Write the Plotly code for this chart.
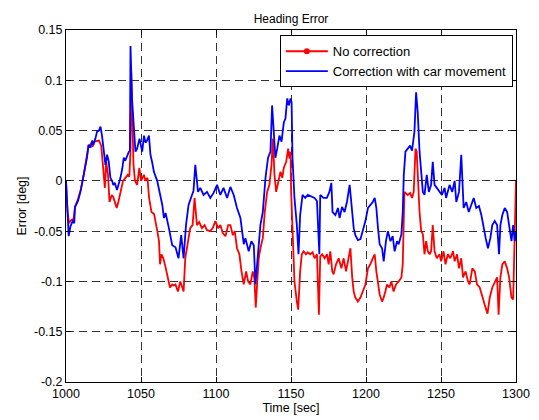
import plotly.graph_objects as go

# ---- data ----
t_blue = [1000, 1001, 1001.8, 1003, 1004.5, 1005.5, 1006, 1008, 1009.6, 1011.8, 1014, 1015, 1016.5, 1017.4, 1018.3,
          1019.6, 1020.7, 1022, 1023, 1024, 1025.2, 1026.3, 1027.4, 1028.5, 1029.6, 1030.7, 1031.5, 1032.5, 1034,
          1036.3, 1037.5, 1038.5, 1039.5, 1040.8, 1041.9, 1042.6, 1043, 1044, 1045.2, 1046.3, 1047.4, 1049, 1050.8,
          1052, 1053, 1054, 1055.3, 1056.3, 1057.5, 1058.6, 1060.8, 1063, 1064.2, 1065.3, 1066.4, 1068.6, 1070.8,
          1073, 1074.2, 1075, 1076.8, 1078.4, 1080, 1081.7, 1084, 1085, 1086.2, 1088, 1089.5, 1091.7, 1094, 1096.2,
          1098.4, 1100.7, 1102.9, 1105, 1107.4, 1109.6, 1111.8, 1114, 1116.3, 1117.4, 1118.5, 1119.6, 1121.8, 1123.6,
          1125.2, 1126.3, 1128, 1129.6, 1131.2, 1133, 1134.7, 1136.3, 1137.4, 1138.5, 1139.6, 1140.8, 1142.3, 1143.7,
          1145.2, 1146.3, 1147.5, 1148.5, 1149.7, 1150.4, 1151, 1152.3, 1153.9, 1155, 1156.1, 1157.7, 1159.5, 1161.2,
          1164, 1165.7, 1167.3, 1168, 1168.9, 1169.5, 1171.7, 1173.9, 1175.6, 1176.9, 1177.7, 1179.6, 1181.3, 1182.4,
          1184, 1185.7, 1187.3, 1189.1, 1190.6, 1191.8, 1192.9, 1194.6, 1196.3, 1197.8, 1199.6, 1201.3, 1202.9,
          1204.5, 1205.8, 1206.9, 1208, 1209.1, 1210.7, 1211.8, 1213.3, 1214.6, 1216.3, 1217.8, 1219.1, 1220.7,
          1221.8, 1223.6, 1224.5, 1225.2, 1226.3, 1227.8, 1229.4, 1230.7, 1232.3, 1233.4, 1234.5, 1235.7, 1236.8,
          1237.9, 1239, 1240.5, 1241.9, 1243.4, 1244.5, 1245.7, 1247.2, 1249, 1250.6, 1252.4, 1253.4, 1255.7, 1257.5,
          1259.1, 1260.2, 1262, 1263.5, 1265.1, 1266.8, 1268.5, 1270.2, 1271.8, 1273.5, 1275.3, 1276.9, 1278, 1279.8,
          1281.3, 1282.9, 1284.2, 1285.8, 1287.4, 1288.7, 1289.6, 1290.9, 1292.5, 1294.1, 1295.4, 1297, 1298.1,
          1299.2, 1300]
y_blue = [0.0, -0.03, -0.055, -0.045, -0.04, -0.042, -0.026, -0.02, -0.011, 0.006, 0.023, 0.035, 0.034, 0.04, 0.036,
          0.042, 0.049, 0.05, 0.054, 0.045, 0.029, 0.016, 0.026, 0.019, 0.003, 0.0, -0.004, -0.002, -0.009,
          0.003, 0.012, 0.023, 0.02, 0.026, 0.029, 0.03, 0.134, 0.082, 0.055, 0.029, 0.032, 0.042, 0.029,
          0.045, 0.038, 0.04, 0.045, 0.026, 0.018, 0.009, 0.0, -0.017, -0.024, -0.037, -0.032, -0.047, -0.064,
          -0.066, -0.073, -0.077, -0.054, -0.077, -0.044, -0.024, -0.014, -0.01, 0.016, -0.011, -0.007, -0.014, -0.011, -0.017,
          -0.012, -0.004, -0.014, -0.007, -0.017, -0.006, -0.014, -0.027, -0.037, -0.05, -0.063, -0.057, -0.07, -0.06,
          -0.064, -0.103, -0.07, -0.044, -0.031, 0.003, 0.023, 0.029, 0.075, 0.045, 0.023, 0.032, 0.045, 0.039,
          0.058, 0.062, 0.082, 0.075, 0.082, 0.078, 0.023, -0.017, -0.044, -0.073, -0.034, -0.014, -0.017, -0.014,
          -0.016, -0.017, -0.02, -0.047, -0.073, -0.014, -0.017, -0.017, -0.011, -0.002, -0.031, -0.034, -0.027, -0.037,
          -0.026, -0.031, -0.021, -0.004, -0.031, -0.047, -0.054, -0.059, -0.058, -0.05, -0.04, -0.027, -0.024,
          -0.021, -0.017, -0.027, -0.047, -0.063, -0.067, -0.08, -0.06, -0.05, -0.06, -0.055, -0.07, -0.06,
          -0.063, -0.053, -0.031, 0.006, 0.029, 0.032, 0.035, 0.03, 0.049, 0.088, 0.068, 0.029, 0.006,
          -0.011, -0.014, 0.006, -0.011, -0.004, 0.019, -0.004, -0.007, -0.011, -0.014, -0.007, -0.017, -0.004, -0.011,
          0.0, -0.021, -0.011, 0.026, -0.027, -0.021, -0.031, -0.024, -0.017, -0.027, -0.025, -0.034, -0.044, -0.057,
          -0.067, -0.057, -0.044, -0.04, -0.044, -0.073, -0.044, -0.034, -0.027, -0.031, -0.044, -0.06, -0.044,
          -0.06, -0.05]

t_red = [1000, 1001, 1002, 1003.5, 1005, 1006, 1008, 1010, 1011.8, 1013.5, 1015, 1016.8, 1017.8, 1018.7, 1020.7, 1022,
         1023.5, 1024.8, 1025.9, 1026.8, 1028, 1029, 1030.5, 1031.5, 1032.8, 1033.8, 1034.9, 1036.5, 1038, 1039.6,
         1041.2, 1042.2, 1043, 1043.5, 1044.3, 1045, 1046, 1047.4, 1048.9, 1050, 1051, 1052, 1053, 1054.3, 1055.4,
         1057, 1058.7, 1059.8, 1060.9, 1062, 1062.7, 1063.6, 1064.9, 1066.4, 1067.9, 1069.3, 1070.8, 1071.9, 1073,
         1074.6, 1076.2, 1077.3, 1078.4, 1079.5, 1081.3, 1082.8, 1084.4, 1085.7, 1087.3, 1088.8, 1090.6, 1092.4,
         1094, 1096.2, 1097.8, 1099.6, 1101.4, 1102.9, 1104.5, 1106.3, 1108.1, 1109.6, 1111.2, 1112.5, 1114, 1115.6,
         1117, 1118.5, 1120.1, 1121.4, 1122.9, 1124.5, 1125.6, 1126.5, 1127.4, 1128.5, 1129.6, 1131.2, 1132.5,
         1134.1, 1135.6, 1137, 1137.9, 1139, 1140.1, 1141.5, 1143, 1144.2, 1145.2, 1146.8, 1148.1, 1149, 1149.7,
         1150.1, 1151, 1152.3, 1153.9, 1154.8, 1156.1, 1157.2, 1158.4, 1160, 1161.2, 1162.8, 1164.4, 1165.7, 1167.3,
         1168, 1168.6, 1169.5, 1170.8, 1172.4, 1174, 1175.1, 1176.2, 1177.5, 1178.4, 1180, 1181.8, 1183.6, 1185.1,
         1186.7, 1188.5, 1189.6, 1190.8, 1191.8, 1192.9, 1194.6, 1196.3, 1197.8, 1199.6, 1201.3, 1202.9, 1204.5,
         1205.8, 1206.9, 1208, 1209.1, 1210.7, 1211.8, 1212.9, 1214, 1215.6, 1216.9, 1218.4, 1220, 1221.8, 1223.6,
         1224.5, 1225.6, 1226.3, 1227.8, 1229.4, 1230.7, 1231.8, 1233, 1233.8, 1234.7, 1235.7, 1236.8, 1237.9, 1239,
         1240.1, 1241.2, 1242.4, 1243.4, 1244.5, 1245.7, 1247.2, 1249, 1250.1, 1251.7, 1253, 1254.6, 1256.2, 1258,
         1259.1, 1260.7, 1262, 1263.5, 1264.7, 1266.4, 1268, 1269.1, 1270.9, 1272.5, 1274, 1275.8, 1277.6, 1279.1,
         1281, 1282.5, 1284.2, 1285.8, 1287.4, 1288.4, 1289.6, 1290.9, 1292.5, 1294.1, 1295.4, 1297, 1298.1, 1299.2,
         1300]
y_red = [0.0, -0.03, -0.042, -0.039, -0.038, -0.026, -0.018, -0.008, 0.006, 0.023, 0.035, 0.037, 0.034, 0.039, 0.04, 0.04,
         0.035, 0.013, -0.007, 0.019, 0.006, -0.021, -0.014, -0.016, -0.024, -0.027, -0.021, -0.011, 0.0, 0.003,
         0.006, 0.004, 0.03, 0.108, 0.055, 0.016, 0.0, -0.004, 0.013, 0.0, 0.003, 0.006, 0.0, 0.003, -0.017,
         -0.031, -0.033, -0.044, -0.05, -0.06, -0.083, -0.073, -0.077, -0.086, -0.096, -0.106, -0.103, -0.104, -0.103,
         -0.11, -0.1, -0.106, -0.11, -0.077, -0.06, -0.047, -0.044, -0.017, -0.044, -0.041, -0.047, -0.044,
         -0.049, -0.05, -0.047, -0.04, -0.047, -0.044, -0.052, -0.055, -0.044, -0.044, -0.054, -0.05, -0.067, -0.073,
         -0.09, -0.103, -0.09, -0.1, -0.103, -0.09, -0.097, -0.126, -0.103, -0.077, -0.067, -0.057, -0.031,
         -0.011, -0.004, 0.016, 0.042, 0.006, -0.011, 0.0, 0.009, 0.003, 0.013, 0.019, 0.032, 0.022, 0.029,
         -0.011, -0.05, -0.1, -0.12, -0.128, -0.09, -0.073, -0.07, -0.073, -0.071, -0.073, -0.071, -0.077, -0.073,
         -0.103, -0.133, -0.075, -0.073, -0.077, -0.073, -0.083, -0.07, -0.09, -0.093, -0.083, -0.077, -0.087, -0.077,
         -0.09, -0.073, -0.067, -0.096, -0.11, -0.116, -0.12, -0.116, -0.11, -0.103, -0.087, -0.083, -0.077,
         -0.073, -0.09, -0.103, -0.113, -0.12, -0.116, -0.11, -0.103, -0.106, -0.1, -0.11, -0.103, -0.1, -0.096,
         -0.083, -0.011, -0.012, -0.014, -0.012, -0.017, -0.011, 0.032, 0.029, -0.004, -0.031, -0.05, -0.053, -0.073,
         -0.06, -0.07, -0.073, -0.07, -0.044, -0.07, -0.077, -0.073, -0.08, -0.07, -0.083, -0.073, -0.077, -0.07,
         -0.08, -0.073, -0.087, -0.077, -0.096, -0.09, -0.1, -0.103, -0.087, -0.09, -0.103, -0.106, -0.116, -0.123,
         -0.132, -0.116, -0.106, -0.1, -0.096, -0.133, -0.096, -0.083, -0.08, -0.087, -0.096, -0.116, -0.118, -0.05,
         0.0]

x_ticks = [1000, 1050, 1100, 1150, 1200, 1250, 1300]
y_ticks = [-0.2, -0.15, -0.1, -0.05, 0, 0.05, 0.1, 0.15]
y_tick_labels = ["-0.2", "-0.15", "-0.1", "-0.05", "0", "0.05", "0.1", "0.15"]
series_names = ["No correction", "Correction with car movement"]
title_text = "Heading Error"
x_label = "Time [sec]"
y_label = "Error [deg]"

RED = "#ff0000"
BLUE = "#0000ff"
FONT = "Arial, Liberation Sans, Helvetica, sans-serif"

fig = go.Figure()
fig.add_trace(go.Scatter(x=t_red, y=y_red, mode="lines", line=dict(color=RED, width=1.8),
                         showlegend=False, hoverinfo="skip"))
fig.add_trace(go.Scatter(x=t_blue, y=y_blue, mode="lines", line=dict(color=BLUE, width=1.8),
                         showlegend=False, hoverinfo="skip"))
# legend entries
fig.add_trace(go.Scatter(x=[None], y=[None], mode="lines+markers", name=series_names[0],
                         line=dict(color=RED, width=1.8), marker=dict(color=RED, size=6)))
fig.add_trace(go.Scatter(x=[None], y=[None], mode="lines", name=series_names[1],
                         line=dict(color=BLUE, width=1.8)))

axis_common = dict(showline=True, linecolor="black", linewidth=1, mirror="ticks",
                   ticks="inside", ticklen=5, tickcolor="black",
                   showgrid=True, gridcolor="#333333", gridwidth=1, griddash="8px,5px",
                   zeroline=False, tickfont=dict(family=FONT, size=12.5, color="black"))

fig.update_xaxes(range=[1000, 1300], tickvals=x_ticks, ticktext=[str(v) for v in x_ticks],
                 title=dict(text=x_label, font=dict(family=FONT, size=12.5, color="black"), standoff=2),
                 **axis_common)
fig.update_yaxes(range=[-0.2, 0.15], tickvals=y_ticks, ticktext=y_tick_labels,
                 title=dict(text=y_label, font=dict(family=FONT, size=12.5, color="black"), standoff=4),
                 **axis_common)

fig.update_layout(
    width=539, height=420,
    margin=dict(l=66, r=23, t=30, b=38, autoexpand=False),
    paper_bgcolor="white", plot_bgcolor="white",
    title=dict(text=title_text, x=0.5, xanchor="center", xref="paper", y=1 - 19 / 420, yanchor="middle",
               font=dict(family=FONT, size=12, color="black")),
    legend=dict(x=0.993, y=0.985, xanchor="right", yanchor="top", bgcolor="white",
                bordercolor="black", borderwidth=1, font=dict(family=FONT, size=13, color="black"),
                tracegroupgap=0, itemwidth=42),
    showlegend=True,
)

fig.write_html("out.html", config={"displayModeBar": False},
               post_script="document.body.style.margin='0px';document.body.style.overflow='hidden';")
